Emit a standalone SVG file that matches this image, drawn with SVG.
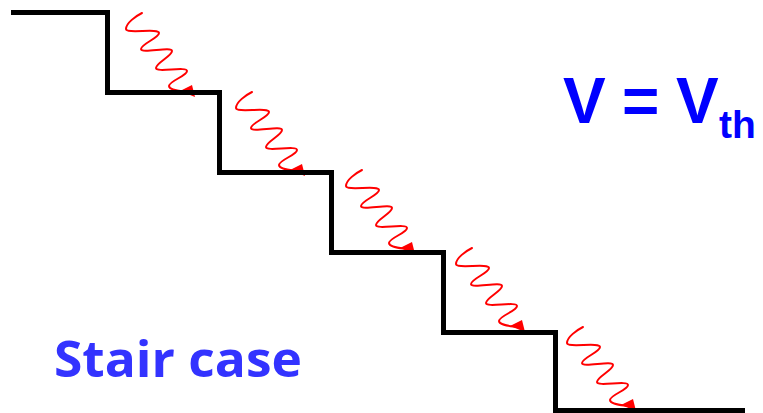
<svg xmlns="http://www.w3.org/2000/svg" width="763" height="413" viewBox="0 0 763 413">
<style>
.wave{fill:none;stroke:#ff0000;stroke-width:2;stroke-linecap:round;stroke-linejoin:round}
.head{fill:#ff0000}
.stair{fill:none;stroke:#000;stroke-width:5;stroke-linejoin:miter}
</style>
<defs>
<g id="photon">
<path class="wave" d="M0,0 C-6,3 -16,10 -16,16 C-16,21 17,15 17,20 C17,25 -1,31 -1,36 C-1,41 30,33 30,38 C30,43 14,50 14,55 C14,60 45,53 45,58 C45,63 27,68 27,73 C27,77 38,78 44,79"/>
<polygon class="head" points="38,78 50,72 53,84"/>
</g>
</defs>
<g id="photons">
<use href="#photon" x="142" y="13"/>
<use href="#photon" x="252" y="92"/>
<use href="#photon" x="362" y="170"/>
<use href="#photon" x="472" y="248"/>
<use href="#photon" x="583" y="327"/>
</g>
<g id="staircase">
<path class="stair" d="M11,12.5 H107.5 V92.5 H219.5 V172.5 H331.5 V252.5 H443.5 V332.5 H555.5 V410.5 H745"/>
</g>
<g id="label-v">
<text font-family="Liberation Sans, Arial, sans-serif" font-weight="bold" font-size="64" fill="#0000ff"><tspan x="563" y="123">V</tspan><tspan x="622" y="123">=</tspan><tspan x="676" y="123">V</tspan><tspan x="719" y="138" font-size="39">th</tspan></text>
</g>
<g id="label-stair">
<text x="54" y="377" font-family="Open Sans, Noto Sans, sans-serif" font-weight="bold" font-size="50" fill="#3333ff" textLength="248" lengthAdjust="spacingAndGlyphs">Stair case</text>
</g>
</svg>
